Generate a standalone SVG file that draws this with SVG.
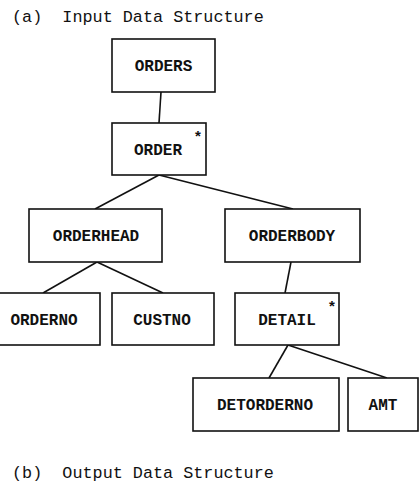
<svg xmlns="http://www.w3.org/2000/svg" width="420" height="484" viewBox="0 0 420 484">
<style>
.box{fill:#fff;stroke:#111;stroke-width:1.6}
.lbl{font-family:"Liberation Mono","DejaVu Sans Mono",monospace;font-size:16px;font-weight:bold;fill:#111;text-anchor:middle}
.ttl{font-family:"Liberation Mono","DejaVu Sans Mono",monospace;font-size:16.8px;fill:#111}
.star{font-family:"Liberation Sans",sans-serif;font-size:15px;font-weight:bold;fill:#111;text-anchor:middle}
.con line{stroke:#111;stroke-width:1.6}
</style>
<rect width="420" height="484" fill="#fff"/>
<text class="ttl" x="12" y="22" xml:space="preserve">(a)  Input Data Structure</text>
<text class="ttl" x="12" y="478" xml:space="preserve">(b)  Output Data Structure</text>
<g id="connectors" class="con">
<line x1="161" y1="92" x2="159" y2="123"/>
<line x1="159" y1="175" x2="95" y2="209"/>
<line x1="159" y1="175" x2="293" y2="209"/>
<line x1="97" y1="262" x2="43" y2="293"/>
<line x1="97" y1="262" x2="163" y2="293"/>
<line x1="291" y1="262" x2="285" y2="293"/>
<line x1="288" y1="345" x2="269" y2="378"/>
<line x1="288" y1="345" x2="387" y2="378"/>
</g>
<g id="orders"><rect class="box" x="112" y="39" width="103" height="53"/><text class="lbl" x="163.5" y="71">ORDERS</text></g>
<g id="order"><rect class="box" x="112" y="123" width="94" height="52"/><text class="lbl" x="158" y="155">ORDER</text><text class="star" x="198" y="141">*</text></g>
<g id="orderhead"><rect class="box" x="29" y="209" width="133" height="53"/><text class="lbl" x="96" y="241">ORDERHEAD</text></g>
<g id="orderbody"><rect class="box" x="225" y="209" width="135" height="53"/><text class="lbl" x="292" y="241">ORDERBODY</text></g>
<g id="orderno"><rect class="box" x="-2" y="293" width="102" height="52"/><text class="lbl" x="44" y="325">ORDERNO</text></g>
<g id="custno"><rect class="box" x="112" y="293" width="102" height="52"/><text class="lbl" x="162" y="325">CUSTNO</text></g>
<g id="detail"><rect class="box" x="235" y="293" width="104" height="52"/><text class="lbl" x="287" y="325">DETAIL</text><text class="star" x="332" y="311">*</text></g>
<g id="detorderno"><rect class="box" x="193" y="378" width="146" height="53"/><text class="lbl" x="265" y="410">DETORDERNO</text></g>
<g id="amt"><rect class="box" x="348" y="378" width="70" height="53"/><text class="lbl" x="383" y="410">AMT</text></g>
</svg>
